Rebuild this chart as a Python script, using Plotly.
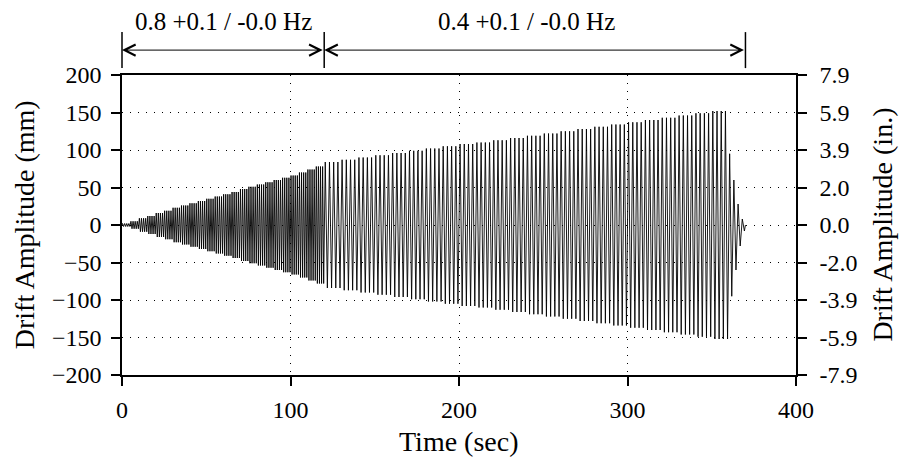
import plotly.graph_objects as go

# loading protocol, amplitudes (mm)
f_low = 0.8    # Hz, first phase
f_high = 0.4   # Hz, second phase
cycles_per_step_low = 4
cycles_per_step_high = 4
amp_low = [2, 5, 9, 12, 16, 19, 23, 26, 29, 32, 35, 38,
           41, 44, 48, 51, 54, 57, 60, 63, 66, 70, 74, 78]
amp_high = [84, 87, 90, 93, 96, 99, 102, 105, 108, 110, 113, 116,
            119, 122, 125, 128, 131, 134, 137, 140, 143, 146, 149, 152]
amp_tail = [95, 60, 28, 8]

seg_edges = [0, 120, 370]
seg_labels = ['0.8 +0.1 / -0.0 Hz', '0.4 +0.1 / -0.0 Hz']
seg_label_x = [60, 240]

y_ticks_mm = [-200, -150, -100, -50, 0, 50, 100, 150, 200]
y_ticks_in = ['-7.9', '-5.9', '-3.9', '-2.0', '0.0', '2.0', '3.9', '5.9', '7.9']
x_ticks = [0, 100, 200, 300, 400]

# build the peak sequence
t = [0.0]
d = [0.0]
t0 = 0.0


def add_cycles(amp, n, f):
    global t0
    T = 1.0 / f
    for _ in range(n):
        t.append(t0 + T / 4)
        d.append(amp)
        t.append(t0 + 3 * T / 4)
        d.append(-amp)
        t0 += T


for a in amp_low:
    add_cycles(a, cycles_per_step_low, f_low)
for a in amp_high:
    add_cycles(a, cycles_per_step_high, f_high)
for a in amp_tail:
    add_cycles(a, 1, f_high)
t.append(t0)
d.append(0.0)

FONT = 'Liberation Serif'

fig = go.Figure()
fig.add_trace(go.Scatter(x=t, y=d, mode='lines', line=dict(color='black', width=0.9),
                         showlegend=False, hoverinfo='skip'))
# dummy trace so the right axis is drawn
fig.add_trace(go.Scatter(x=[0], y=[0], yaxis='y2', mode='markers', marker_opacity=0,
                         showlegend=False, hoverinfo='skip'))

axis_common = dict(showline=True, linecolor='black', linewidth=1.5,
                   ticks='outside', ticklen=9, tickwidth=1.5, tickcolor='black',
                   tickfont=dict(family=FONT, size=24, color='black'),
                   zeroline=False)

# page has an 8px body margin, so the figure is a bit smaller than the window
fig.update_layout(
    width=901, height=454,
    margin=dict(l=114, r=113, t=67, b=87),
    paper_bgcolor='white', plot_bgcolor='white',
    xaxis=dict(range=[0, 400], tickvals=x_ticks, mirror=True, ticklabelstandoff=3,
               showgrid=True, gridcolor='black', gridwidth=1, griddash='1px,7px',
               **axis_common),
    yaxis=dict(range=[-200, 200], tickvals=y_ticks_mm, ticklabelstandoff=5,
               showgrid=True, gridcolor='black', gridwidth=1, griddash='1px,7px',
               **axis_common),
    yaxis2=dict(range=[-200, 200], tickvals=y_ticks_mm, ticktext=y_ticks_in,
                overlaying='y', side='right', showgrid=False, anchor='x',
                ticklabelstandoff=8, **axis_common),
)

# axis titles
fig.add_annotation(text='Time (sec)', xref='paper', yref='paper', x=0.5, y=-0.22,
                   showarrow=False, yanchor='middle',
                   font=dict(family=FONT, size=28, color='black'))
fig.add_annotation(text='Drift Amplitude (mm)', xref='paper', yref='paper', x=-0.145, y=0.5,
                   textangle=-90, showarrow=False, xanchor='center',
                   font=dict(family=FONT, size=28, color='black'))
fig.add_annotation(text='Drift Amplitude (in.)', xref='paper', yref='paper', x=1.127, y=0.5,
                   textangle=-90, showarrow=False, xanchor='center',
                   font=dict(family=FONT, size=28, color='black'))

# frequency phase markers above the plot
for e in seg_edges:
    fig.add_shape(type='line', xref='paper', yref='paper',
                  x0=e / 400, x1=e / 400, y0=1.023, y1=1.143,
                  line=dict(color='black', width=1.5))
for i in range(len(seg_labels)):
    fig.add_annotation(x=seg_edges[i], y=1.083, ax=seg_edges[i + 1], ay=0,
                       xref='x', yref='paper', axref='x', ayref='pixel',
                       text='', showarrow=True, arrowside='end+start',
                       arrowhead=5, startarrowhead=5, arrowsize=2.2, startarrowsize=2.2,
                       arrowwidth=1, arrowcolor='black')
    fig.add_annotation(x=seg_label_x[i], y=1.177, xref='x', yref='paper',
                       text=seg_labels[i], showarrow=False, yanchor='middle',
                       font=dict(family=FONT, size=25, color='black'))

fig.write_html('out.html')
